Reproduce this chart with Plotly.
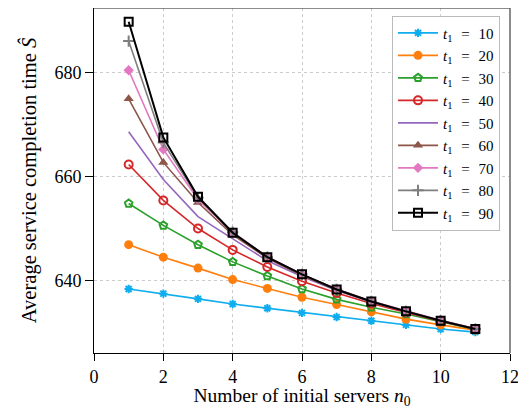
import plotly.graph_objects as go

n0 = [1, 2, 3, 4, 5, 6, 7, 8, 9, 10, 11]
t1_labels = [10, 20, 30, 40, 50, 60, 70, 80, 90]

s_t10 = [638.4, 637.5, 636.5, 635.5, 634.7, 633.8, 633.0, 632.3, 631.5, 630.7, 630.1]
s_t20 = [646.9, 644.5, 642.4, 640.2, 638.5, 636.8, 635.4, 634.0, 632.6, 631.5, 630.5]
s_t30 = [654.8, 650.6, 646.9, 643.6, 640.9, 638.4, 636.4, 634.9, 633.6, 632.1, 630.6]
s_t40 = [662.3, 655.4, 650.0, 645.9, 642.6, 639.9, 637.6, 635.6, 633.9, 632.2, 630.7]
s_t50 = [668.6, 659.4, 652.3, 648.0, 643.8, 640.8, 638.1, 635.9, 634.1, 632.3, 630.7]
s_t60 = [674.9, 662.7, 655.0, 648.8, 644.3, 641.0, 638.2, 636.0, 634.1, 632.3, 630.7]
s_t70 = [680.4, 665.2, 655.6, 649.2, 644.6, 641.2, 638.4, 636.1, 634.2, 632.4, 630.8]
s_t80 = [686.0, 666.5, 655.9, 649.3, 644.5, 641.2, 638.3, 636.0, 634.1, 632.3, 630.7]
s_t90 = [689.7, 667.5, 656.1, 649.2, 644.5, 641.2, 638.3, 636.0, 634.1, 632.3, 630.7]

series = [s_t10, s_t20, s_t30, s_t40, s_t50, s_t60, s_t70, s_t80, s_t90]
colors = ["#0fadee", "#ff7f0e", "#2ca02c", "#d62728", "#9467bd",
          "#8c564b", "#e377c2", "#7f7f7f", "#000000"]
symbols = ["asterisk-open", "circle", "pentagon-open", "circle-open", None,
           "triangle-up", "diamond", "cross-thin-open", "square-open"]
msizes = [7, 9, 8, 8, 0, 9, 8, 8, 8]

FONT = "Liberation Serif"

fig = go.Figure()
for t, ys, c, sym, ms in zip(t1_labels, series, colors, symbols, msizes):
    kw = dict(
        x=n0, y=ys,
        name=f"<i>t</i><sub>1</sub>\u2002\u200a=\u2002\u200a{t}",
        line=dict(color=c, width=2 if c == "#000000" else 1.6),
    )
    if sym is None:
        kw["mode"] = "lines"
    else:
        kw["mode"] = "lines+markers"
        kw["marker"] = dict(symbol=sym, size=ms, color=c,
                            line=dict(color=c, width=2 if "open" in sym else 0))
    fig.add_trace(go.Scatter(**kw))

# page body has an 8px margin: figure is offset by (8, 8) in the window
fig.update_layout(
    width=518, height=401,
    margin=dict(l=86, r=16, t=0, b=56),
    paper_bgcolor="white", plot_bgcolor="white",
    font=dict(family=FONT, size=18, color="black"),
    showlegend=True,
    legend=dict(
        x=0.976, y=0.978, xanchor="right", yanchor="top",
        bgcolor="white", bordercolor="#bbbbbb", borderwidth=1,
        font=dict(family=FONT, size=15),
        itemwidth=40, tracegroupgap=0,
    ),
)
fig.update_xaxes(
    range=[0, 12], dtick=2, tick0=0,
    showline=True, linecolor="black", linewidth=1,
    ticks="outside", ticklen=7, tickcolor="black",
    showgrid=True, gridcolor="#cccccc", griddash="dot", gridwidth=1,
    zeroline=False, automargin=False,
    title=dict(text="Number of initial servers <i>n</i><sub>0</sub>", standoff=6,
               font=dict(family=FONT, size=19.5)),
    tickfont=dict(family=FONT, size=18),
)
fig.update_yaxes(
    range=[626.1, 692.35], tickvals=[640, 660, 680],
    showline=True, linecolor="black", linewidth=1,
    ticks="outside", ticklen=8, tickcolor="black",
    showgrid=True, gridcolor="#cccccc", griddash="dot", gridwidth=1,
    zeroline=False, automargin=False,
    title=dict(text="Average service completion time <i>Ŝ</i>", standoff=12,
               font=dict(family=FONT, size=20.5)),
    tickfont=dict(family=FONT, size=18),
)
# top and right frame lines
fig.add_shape(type="line", xref="paper", yref="paper", x0=0, x1=1, y0=1, y1=1,
              line=dict(color="#666666", width=1.5))
fig.add_shape(type="line", xref="paper", yref="paper", x0=1, x1=1, y0=0, y1=1,
              line=dict(color="#666666", width=1.5))

fig.write_html("out.html")
